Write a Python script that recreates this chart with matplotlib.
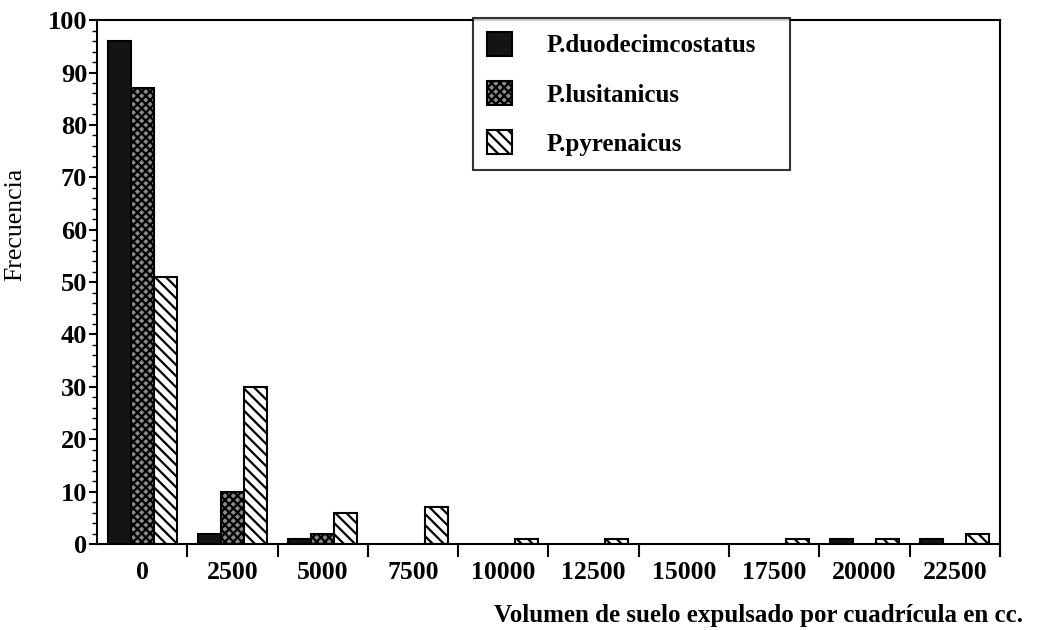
import matplotlib.pyplot as plt
import numpy as np

plt.rcParams['font.family'] = 'Liberation Serif'
plt.rcParams['font.weight'] = 'bold'
plt.rcParams['hatch.linewidth'] = 1.6

# volumen (cc) por cuadrícula
volumen = [0, 2500, 5000, 7500, 10000, 12500, 15000, 17500, 20000, 22500]
duodecimcostatus = [96, 2, 1, 0, 0, 0, 0, 0, 1, 1]
lusitanicus = [87, 10, 2, 0, 0, 0, 0, 0, 0, 0]
pyrenaicus = [51, 30, 6, 7, 1, 1, 0, 1, 1, 2]

fig = plt.figure(figsize=(10.38, 6.3), dpi=100)
ax = fig.add_axes([0.0934, 0.1365, 0.87, 0.8315])

x = np.arange(len(volumen))
w = 0.255

def barras(vals, offset, **kw):
    # las barras a cero no se dibujan en el original
    xs = [xi + offset for xi, v in zip(x, vals) if v > 0]
    vs = [v for v in vals if v > 0]
    return ax.bar(xs, vs, width=w, edgecolor='black', linewidth=1.5, **kw)

b1 = barras(duodecimcostatus, -w, color='#141414', label='P.duodecimcostatus')
b2 = barras(lusitanicus, 0, color='#8a8a8a', hatch='xxxx', label='P.lusitanicus')
b3 = barras(pyrenaicus, w, color='white', hatch='\\\\\\', label='P.pyrenaicus')

ax.set_xlim(-0.5, len(volumen) - 0.5)
ax.set_ylim(0, 100)

# marcas del eje x en los límites de cada clase, etiquetas centradas
ax.set_xticks(np.arange(0.5, len(volumen), 1.0))
ax.set_xticklabels([])
ax.set_xticks(x, minor=True)
ax.set_xticklabels([str(v) for v in volumen], minor=True, fontsize=18.5, fontweight='bold')
ax.tick_params(axis='x', which='major', direction='out', length=9, width=1.5)
ax.tick_params(axis='x', which='minor', length=0, pad=12)

ax.set_yticks(np.arange(0, 101, 10))
ax.set_yticks(np.arange(0, 101, 2), minor=True)
ax.tick_params(axis='y', which='major', direction='out', length=6, width=1.5, labelsize=19, pad=1)
ax.tick_params(axis='y', which='minor', direction='out', length=3.5, width=1)
for lab in ax.get_yticklabels():
    lab.set_fontweight('bold')

for s in ax.spines.values():
    s.set_linewidth(1.5)

ax.set_ylabel('Frecuencia', fontsize=18.5, fontweight='normal')
ax.yaxis.set_label_coords(-0.078, 0.61)
fig.text(0.986, 0.012, 'Volumen de suelo expulsado por cuadrícula en cc.',
         ha='right', va='baseline', fontsize=18, fontweight='bold')

leg = ax.legend(loc='upper left', bbox_to_anchor=(0.4164, 1.004, 0.351, 0.0), mode='expand',
                frameon=True, fancybox=False, edgecolor='black', fontsize=18,
                handlelength=1.0, handleheight=1.1, borderpad=0.55, labelspacing=0.95,
                handletextpad=1.4, borderaxespad=0)
leg.get_frame().set_linewidth(1.5)
for t in leg.get_texts():
    t.set_fontweight('bold')

fig.savefig('out.png', dpi=100)
